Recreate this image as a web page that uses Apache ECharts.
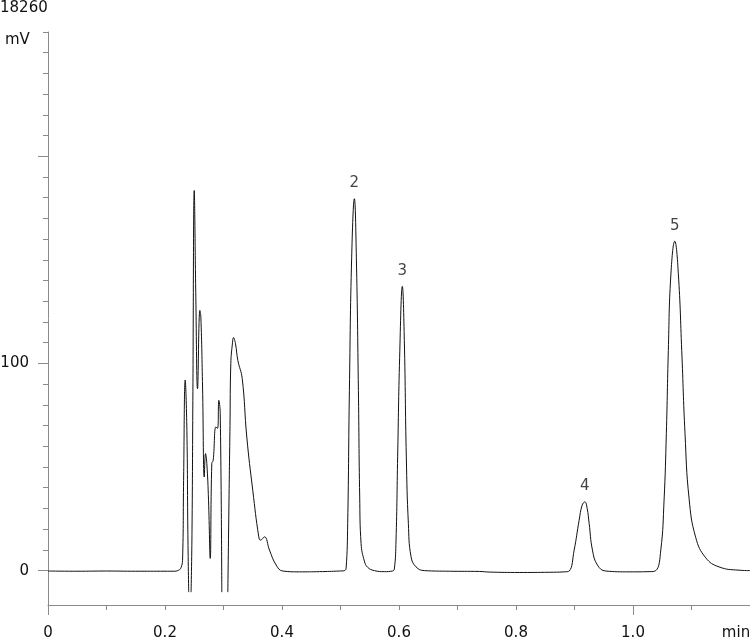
<!DOCTYPE html>
<html style="height: 100%">
   <head>
       <meta charset="utf-8">
   </head>
   <body style="height: 100%; margin: 0">
       <div id="container" style="width: 750px; height: 637px"></div>
       <script type="text/javascript" src="https://cdn.jsdelivr.net/npm/echarts@6/dist/echarts.min.js"></script>
       <script type="text/javascript">
            // retention time (min) and detector signal (mV)
            // '-' marks where the trace leaves the plotted range (the two dips)
            var times = [0, 0.05, 0.1, 0.15, 0.2, 0.2164, 0.2249, 0.2275, 0.2300, 0.2318, 0.2345, 0.2374, 0.2390, 0.2405,
                0.2425, 0.2446, 0.2462, 0.2476, 0.2500, 0.2527, 0.2556, 0.2596, 0.2613, 0.2642, 0.2671, 0.2693, 0.2715,
                0.2744, 0.2773, 0.2800, 0.2824, 0.2869, 0.2898, 0.2920, 0.2944, 0.2971, 0.3020, 0.3074, 0.3094, 0.3111,
                0.3125, 0.3154, 0.3171, 0.3205, 0.3245, 0.3320, 0.3398, 0.3500, 0.3603, 0.3632, 0.3700, 0.3786, 0.3900,
                0.4013, 0.4298, 0.4640, 0.4981, 0.5067, 0.5096, 0.5123, 0.5152, 0.5191, 0.5237, 0.5271, 0.5306, 0.5328,
                0.5352, 0.5408, 0.5464, 0.5579, 0.5750, 0.5886, 0.5920, 0.5949, 0.5977, 0.6011, 0.6057, 0.6091, 0.6125,
                0.6160, 0.6206, 0.6291, 0.6433, 0.6860, 0.7372, 0.7542, 0.8055, 0.8567, 0.8823, 0.8909, 0.8994, 0.9079,
                0.9131, 0.9177, 0.9216, 0.9250, 0.9307, 0.9392, 0.9535, 0.9933, 1.0275, 1.0389, 1.0475, 1.0531, 1.0570,
                1.0604, 1.0645, 1.0714, 1.0775, 1.0833, 1.0889, 1.0958, 1.1072, 1.1243, 1.1470, 1.1811, 1.2];
            var signal = [-0.2, -0.3, -0.2, -0.3, -0.3, -0.3, 0.5, 1.5, 5, 43.6, 92, 67.7, 20, -10.4,
                '-', -10.4, 20, 82, 183.5, 132, 87.8, 125.6, 122.4, 88.6, 45.2, 56.5, 51.7,
                34, 5.9, 51.7, 53.3, 69.3, 68.7, 82.2, 75.9, -10.4, '-', -10.4, 34, 70,
                100, 110, 112.5, 109.5, 101.5, 92.7, 64.5, 38.8, 16.3, 14.7, 16.3, 9.9, 2.7,
                -0.2, -0.6, -0.5, -0.2, 0, 1.2, 22.8, 87, 151.3, 179.5, 151.3, 87, 36,
                13, 4.6, 1.6, 0, -0.5, -0.2, 0.7, 14.7, 54.9, 103, 137.2, 111, 54.9,
                22.8, 6.7, 1.8, 0, -0.3, -0.4, -0.7, -0.9, -0.8, -0.6, -0.2, 9.9, 24.3,
                31.6, 33.2, 30.1, 22.8, 9.9, 2.7, -0.2, -0.6, -0.5, 0, 9.9, 34, 66.2,
                106.3, 141.7, 159, 143.3, 106.3, 66.2, 35, 16, 6.2, 1.8, 0.2, 0];

            // numbered peaks
            var peakNames = ['2', '3', '4', '5'];
            var peakTimes = [0.5237, 0.6057, 0.9177, 1.0714];
            var peakHeights = [179.5, 137.2, 33.2, 159];

            // axis ticks and labels
            var xTickValues = [0, 0.2, 0.4, 0.6, 0.8, 1.0, 1.2];
            var xTickLabels = ['0', '0.2', '0.4', '0.6', '0.8', '1.0', 'min'];
            var xLongTicks = [0, 1.0];
            var xShortTicks = [0.1, 0.2, 0.3, 0.4, 0.5, 0.6, 0.7, 0.8, 0.9, 1.1];
            var yLabelValues = [0, 100];
            var yLongTicks = [0, 100, 200];
            var yShortTicks = [10, 20, 30, 40, 50, 60, 70, 80, 90, 110, 120, 130, 140, 150, 160, 170, 180, 190,
                210, 220, 230, 240, 250, 260];
            var scaleText = '18260';
            var unitText = 'mV';

            var font = 'DejaVu Sans';
            var axisColor = '#8a8a8a';
            var textColor = '#111';

            var trace = times.map(function (t, i) { return [t, signal[i]]; });
            var peaks = peakTimes.map(function (t, i) { return {value: [t, peakHeights[i]], name: peakNames[i]}; });

            var dom = document.getElementById("container");
            var myChart = echarts.init(dom);
            var option = {
                animation: false,
                backgroundColor: '#fff',
                grid: {left: 48, right: 0, top: 32, bottom: 32, containLabel: false, outerBoundsMode: 'none'},
                graphic: [
                    {type: 'text', left: 0, top: 1, style: {text: scaleText, font: '15px "DejaVu Sans"', fill: textColor}},
                    {type: 'text', left: 5, top: 33, style: {text: unitText, font: '15px "DejaVu Sans"', fill: textColor}}
                ],
                xAxis: [{
                    type: 'value', min: 0, max: 1.2, interval: 0.2,
                    axisLine: {onZero: false, lineStyle: {color: axisColor}},
                    axisTick: {customValues: xLongTicks, length: 10, lineStyle: {color: axisColor}},
                    splitLine: {show: false},
                    axisLabel: {
                        margin: 21, color: textColor, fontFamily: font, fontSize: 15,
                        formatter: function (v) {
                            var i = xTickValues.indexOf(Math.round(v * 10) / 10);
                            var s = i < 0 ? '' : xTickLabels[i];
                            return s === 'min' ? '{m|' + s + '}' : s;
                        },
                        rich: {m: {fontFamily: font, fontSize: 15, color: textColor, padding: [0, 28, 0, 0]}}
                    }
                }, {
                    type: 'value', min: 0, max: 1.2, position: 'bottom',
                    axisLine: {show: false, onZero: false},
                    axisTick: {customValues: xShortTicks, length: 5, lineStyle: {color: axisColor}},
                    axisLabel: {show: false},
                    splitLine: {show: false}
                }],
                yAxis: [{
                    type: 'value', min: -16.6, max: 260,
                    axisLine: {show: true, onZero: false, lineStyle: {color: axisColor}},
                    axisTick: {customValues: yLongTicks, length: 10, lineStyle: {color: axisColor}},
                    axisLabel: {customValues: yLabelValues, margin: 19, color: textColor, fontFamily: font, fontSize: 15},
                    splitLine: {show: false}
                }, {
                    type: 'value', min: -16.6, max: 260, position: 'left',
                    axisLine: {show: false, onZero: false},
                    axisTick: {customValues: yShortTicks, length: 5, lineStyle: {color: axisColor}},
                    axisLabel: {show: false},
                    splitLine: {show: false}
                }],
                series: [{
                    type: 'line',
                    data: trace,
                    xAxisIndex: 0, yAxisIndex: 0,
                    showSymbol: false,
                    connectNulls: false,
                    smooth: 0.45,
                    lineStyle: {color: '#111', width: 1}
                }, {
                    type: 'scatter',
                    data: peaks,
                    xAxisIndex: 0, yAxisIndex: 0,
                    symbolSize: 0,
                    label: {
                        show: true, position: 'top', distance: 8,
                        formatter: '{b}', color: textColor, fontFamily: font, fontSize: 15
                    }
                }]
            };
            myChart.setOption(option);
       </script>
   </body>
</html>
